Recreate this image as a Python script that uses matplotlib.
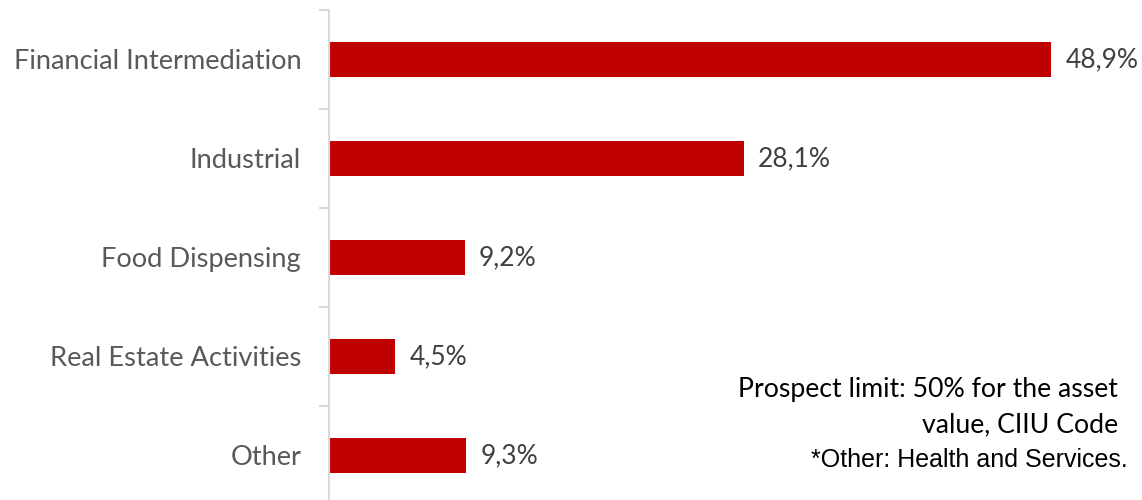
import matplotlib
matplotlib.use("Agg")
import matplotlib.pyplot as plt

categories = ["Financial Intermediation", "Industrial", "Food Dispensing",
              "Real Estate Activities", "Other"]
values = [48.9, 28.1, 9.2, 4.5, 9.3]
value_labels = ["48,9%", "28,1%", "9,2%", "4,5%", "9,3%"]

W, H = 1142, 500
fig = plt.figure(figsize=(W / 100, H / 100), dpi=100)
ax = fig.add_axes([329 / W, 0.0, (W - 329) / W, 490 / H])

bar_color = "#C00000"
pos = list(range(len(categories)))
ax.barh(pos, values, height=0.36, color=bar_color)

ax.set_ylim(4.45, -0.5)
ax.set_xlim(0, 55.05)

FONT = "Lato"
FS = 19
for p, v, lab in zip(pos, values, value_labels):
    ax.text(v + 0.95, p, lab, va="center", ha="left", fontsize=FS,
            color="#404040", family=FONT)

ax.set_yticks(pos)
ax.set_yticklabels(categories, fontsize=19.6, color="#595959", family=FONT)
ax.tick_params(axis="y", which="major", length=0, pad=20)
ax.set_yticks([-0.5, 0.5, 1.5, 2.5, 3.5], minor=True)
ax.tick_params(axis="y", which="minor", length=7, color="#D9D9D9", width=1.5)
ax.set_xticks([])

for s in ["top", "right", "bottom"]:
    ax.spines[s].set_visible(False)
ax.spines["left"].set_color("#D9D9D9")
ax.spines["left"].set_linewidth(1.5)

fig.text(1118 / W, 1 - 390 / H, "Prospect limit: 50% for the asset",
         ha="right", va="center", fontsize=19.2, color="black", family=FONT)
fig.text(1118 / W, 1 - 425 / H, "value, CIIU Code",
         ha="right", va="center", fontsize=19.2, color="black", family=FONT)
fig.text(1128 / W, 1 - 460 / H, "*Other: Health and Services.",
         ha="right", va="center", fontsize=18, color="black", family="Liberation Sans")

fig.savefig("out.png", dpi=100)
